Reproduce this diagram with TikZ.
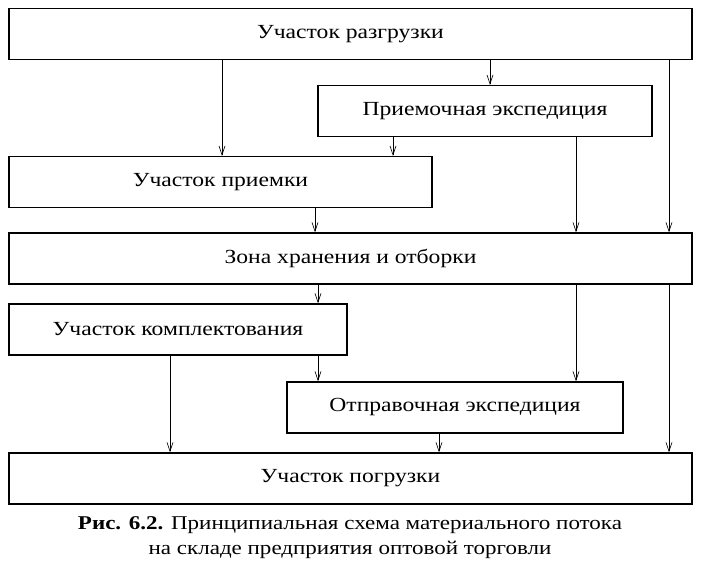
\documentclass[tikz,border=0pt]{standalone}
\usepackage{fontspec}
\setmainfont{Liberation Serif}
\newfontfamily\widefont[FakeStretch=1.18]{Liberation Serif}
\usetikzlibrary{arrows.meta}

\begin{document}
\begin{tikzpicture}[x=1pt,y=-1pt,
    area/.style={rectangle,draw,line width=1.3pt,minimum height=51pt,inner sep=0pt,
                 font=\widefont\fontsize{20}{24}\selectfont},
    flow/.style={-{Straight Barb[length=9pt,width=6pt]},line width=0.6pt}
]
\useasboundingbox (0,0) rectangle (705,571);

\node[area,minimum width=683pt] (razgr)   at (350.5,34)  {Участок разгрузки};
\node[area,minimum width=334pt] (priemex) at (485,111)   {Приемочная экспедиция};
\node[area,minimum width=423pt] (priem)   at (220.5,182) {Участок приемки};
\node[area,minimum width=683pt] (zona)    at (350.5,258.5) {Зона хранения и отборки};
\node[area,minimum width=338pt] (kompl)   at (178,329.5) {Участок комплектования};
\node[area,minimum width=336pt] (otprex)  at (455,407.5) {Отправочная экспедиция};
\node[area,minimum width=683pt] (pogr)    at (350.5,478.5) {Участок погрузки};

% columns of the flow lines
\coordinate (c170) at (170,0);
\coordinate (c222) at (222,0);
\coordinate (c315) at (315,0);
\coordinate (c318) at (318,0);
\coordinate (c393) at (393,0);
\coordinate (c439) at (439,0);
\coordinate (c490) at (490,0);
\coordinate (c576) at (576,0);
\coordinate (c669) at (669,0);

\draw[flow] (razgr.south -| c490)   -- (priemex.north -| c490);
\draw[flow] (razgr.south -| c222)   -- (priem.north -| c222);
\draw[flow] (razgr.south -| c669)   -- (zona.north -| c669);
\draw[flow] (priemex.south -| c393) -- (priem.north -| c393);
\draw[flow] (priemex.south -| c576) -- (zona.north -| c576);
\draw[flow] (priem.south -| c315)   -- (zona.north -| c315);
\draw[flow] (zona.south -| c318)    -- (kompl.north -| c318);
\draw[flow] (zona.south -| c576)    -- (otprex.north -| c576);
\draw[flow] (zona.south -| c669)    -- (pogr.north -| c669);
\draw[flow] (kompl.south -| c170)   -- (pogr.north -| c170);
\draw[flow] (kompl.south -| c318)   -- (otprex.north -| c318);
\draw[flow] (otprex.south -| c439)  -- (pogr.north -| c439);

\node[align=center,font=\widefont\fontsize{19.5}{25}\selectfont] (caption) at (350,538)
  {\textbf{Рис. 6.2.} Принципиальная схема материального потока\\
   на складе предприятия оптовой торговли};
\end{tikzpicture}
\end{document}
